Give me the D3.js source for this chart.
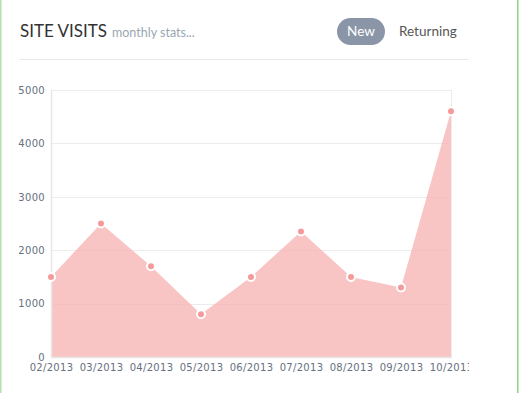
<!DOCTYPE html>
<html>
<head>
<meta charset="utf-8">
<script src="https://cdn.jsdelivr.net/npm/d3@7"></script>
<style>
  body { margin: 0; background: #fff; }
  svg { display: block; }
</style>
</head>
<body>
<svg width="519" height="393"></svg>
<script>
const months = ['02/2013', '03/2013', '04/2013', '05/2013', '06/2013', '07/2013', '08/2013', '09/2013', '10/2013'];
const visits = [1500, 2500, 1700, 800, 1500, 2350, 1500, 1300, 4600];
const yTicks = [0, 1000, 2000, 3000, 4000, 5000];

var svgElement = d3.select('svg');

// side borders
svgElement.append('rect').attr('x', 0).attr('y', 0).attr('width', 1.5).attr('height', 393).attr('fill', '#b5e0ad');
svgElement.append('rect').attr('x', 517).attr('y', 0).attr('width', 1.5).attr('height', 393).attr('fill', '#8fd485');

// header
var header = svgElement.append('g');
header.append('text')
  .attr('x', 20).attr('y', 37)
  .attr('font-family', 'Lato, sans-serif')
  .attr('font-size', 17)
  .attr('fill', '#333')
  .text('SITE VISITS');
header.append('text')
  .attr('x', 112).attr('y', 37)
  .attr('font-family', 'Lato, sans-serif')
  .attr('font-size', 12.5)
  .attr('fill', '#9aa7b2')
  .text('monthly stats...');
header.append('rect')
  .attr('x', 337).attr('y', 18)
  .attr('width', 48).attr('height', 27)
  .attr('rx', 13.5)
  .attr('fill', '#8a95a8');
header.append('text')
  .attr('x', 361).attr('y', 36)
  .attr('text-anchor', 'middle')
  .attr('font-family', 'Lato, sans-serif')
  .attr('font-size', 13.5)
  .attr('fill', '#fff')
  .text('New');
header.append('text')
  .attr('x', 399).attr('y', 36)
  .attr('font-family', 'Lato, sans-serif')
  .attr('font-size', 13.5)
  .attr('fill', '#555')
  .text('Returning');
header.append('line')
  .attr('x1', 20).attr('x2', 468)
  .attr('y1', 59.5).attr('y2', 59.5)
  .attr('stroke', '#e8e8e8');

// chart container is clipped on the right, like the original widget
svgElement.append('clipPath').attr('id', 'chartClip')
  .append('rect').attr('x', 0).attr('y', 60).attr('width', 469).attr('height', 333);
var chart = svgElement.append('g').attr('clip-path', 'url(#chartClip)');

var xScale = d3.scalePoint().domain(months).range([51, 451]);
var yScale = d3.scaleLinear().domain([0, 5000]).range([357, 90]);

var grid = chart.append('g');
grid.selectAll('line.h')
  .data(yTicks)
  .enter()
  .append('line')
  .attr('class', 'h')
  .attr('x1', 51).attr('x2', 451)
  .attr('y1', d => Math.round(yScale(d)) + 0.5)
  .attr('y2', d => Math.round(yScale(d)) + 0.5)
  .attr('stroke', '#ececec');
grid.append('line')
  .attr('x1', 451.5).attr('x2', 451.5)
  .attr('y1', yScale(5000)).attr('y2', yScale(0))
  .attr('stroke', '#ececec');

var area = d3.area()
  .x(d => xScale(d[0]))
  .y0(yScale(0))
  .y1(d => yScale(d[1]));

var pairs = months.map((m, i) => [m, visits[i]]);

chart.append('path')
  .datum(pairs)
  .attr('d', area)
  .attr('fill', '#f7b5b5')
  .attr('fill-opacity', 0.8);

// axis lines
chart.append('line')
  .attr('x1', 51.5).attr('x2', 51.5)
  .attr('y1', yScale(5000)).attr('y2', yScale(0))
  .attr('stroke', '#e6e6e6').attr('stroke-width', 1.5);
chart.append('line')
  .attr('x1', 51).attr('x2', 452)
  .attr('y1', yScale(0) + 0.5).attr('y2', yScale(0) + 0.5)
  .attr('stroke', '#e6e6e6').attr('stroke-width', 1.5);

chart.append('g')
  .selectAll('circle')
  .data(pairs)
  .enter()
  .append('circle')
  .attr('cx', d => xScale(d[0]))
  .attr('cy', d => yScale(d[1]))
  .attr('r', 4)
  .attr('fill', '#f59a9a')
  .attr('stroke', '#fff')
  .attr('stroke-width', 2);

// axes
var yAxis = chart.append('g')
  .attr('transform', 'translate(45,0)')
  .call(d3.axisLeft(yScale).tickValues(yTicks).tickFormat(d3.format('d')).tickSize(0).tickPadding(0));
yAxis.select('.domain').remove();

var xAxis = chart.append('g')
  .attr('transform', 'translate(0,' + (yScale(0) + 4) + ')')
  .call(d3.axisBottom(xScale).tickSize(0).tickPadding(3));
xAxis.select('.domain').remove();

chart.selectAll('.tick text')
  .attr('font-family', '"DejaVu Sans", sans-serif')
  .attr('font-size', 10)
  .attr('letter-spacing', 0.3)
  .attr('fill', '#667080');
</script>
</body>
</html>
